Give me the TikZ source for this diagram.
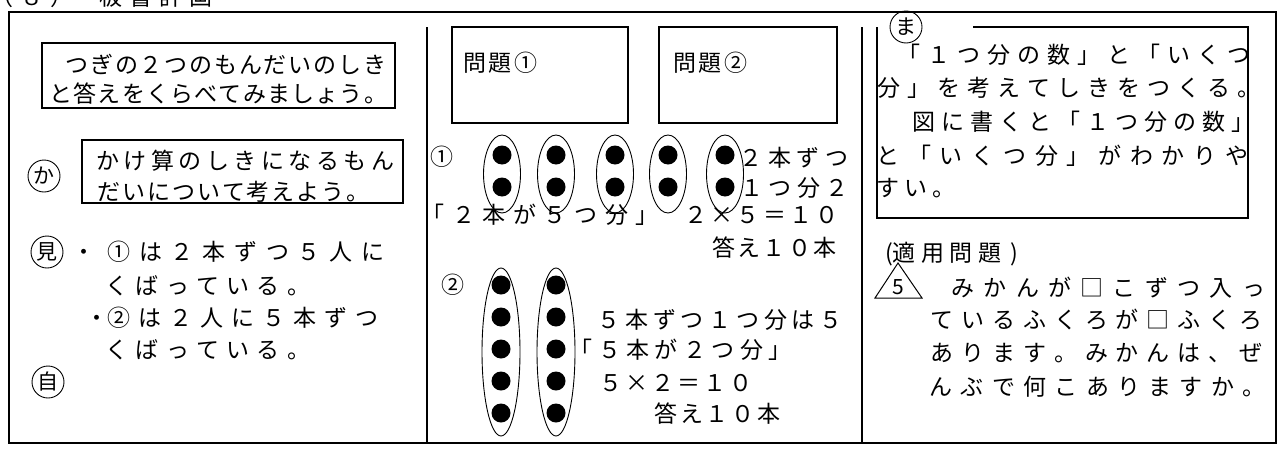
\documentclass[tikz,border=0pt]{standalone}
\usepackage{fontspec}
\setmainfont{Noto Sans CJK JP}
\newdimen\jpitch
\def\pl#1#2{\jpitch=#1pt\relax\plloop#2\relax}
\def\plloop#1{\ifx#1\relax\else\hbox to\jpitch{\hss#1\hss}\expandafter\plloop\fi}
\tikzset{
  jt/.style={inner sep=0pt, outer sep=0pt, text height=20.2pt, text depth=2.8pt, anchor=west, font=\fontsize{23}{23}\selectfont},
  frame/.style={draw, line width=2pt},
  cmark/.style={circle, draw, line width=0.9pt, inner sep=0pt, minimum width=32pt, minimum height=32pt, font=\fontsize{21}{21}\selectfont},
  oval/.style={line width=0.9pt},
}
\newcommand\jl[5]{\node[jt] (#1) at ({#2-#3/2},#4) {\pl{#3}{#5}};}
\begin{document}
\begin{tikzpicture}[x=1pt,y=-1pt]
\useasboundingbox (0,0) rectangle (1279,450);
% title (cut off at top, as in the reference)
\jl{t1}{2}{30}{-3}{（８）}
\jl{t2}{111}{30}{-3}{板書計画}
% frame and dividers
\draw[line width=2.4pt] (9,12) rectangle (1276,443);
\draw[line width=2pt] (427,27) -- (427,443);
\draw[line width=2pt] (862,27) -- (862,443);
% ---------- left column
\draw[frame] (42,43) rectangle (395,108);
\jl{a1}{77}{24.8}{65}{つぎの２つのもんだいのしき}
\jl{a2}{61}{24.2}{94}{と答えをくらべてみましょう。}
\node[cmark] (ka) at (44,176) {か};
\draw[frame] (82,140) rectangle (403,203);
\jl{b1}{108}{27.5}{161}{かけ算のしきになるもん}
\jl{b2}{109}{24.9}{192}{だいについて考えよう。}
\node[cmark] (mi) at (47,252) {見};
\node[jt,anchor=center] (m0) at (84,252) {・};
\jl{m1}{119}{31.75}{252}{①は２本ずつ５人に}
\jl{m2}{117}{30.3}{286}{くばっている。}
\node[jt,anchor=center] (m3) at (97,318) {・};
\jl{m4}{119}{31}{318}{②は２人に５本ずつ}
\jl{m5}{117}{30.3}{350}{くばっている。}
\node[cmark] (ji) at (48,382) {自};
% ---------- middle column
\draw[frame] (452,27) rectangle (628,123);
\draw[frame] (659,27) rectangle (837,123);
\jl{p1}{475}{25.5}{63}{問題①}
\jl{p2}{685}{25.5}{63}{問題②}
\node[jt,anchor=center] (c1) at (442,157) {①};
\foreach \x in {502,556,615,668,725}{
  \draw[oval] (\x,174) ellipse[x radius=18.5pt, y radius=39pt];
  \fill (\x,155) circle[radius=9.5pt];
  \fill (\x,187) circle[radius=9.5pt];
}
\jl{r1}{751}{28.7}{158}{２本ずつ}
\jl{r2}{752}{28.3}{188}{１つ分２}
\jl{r3}{433}{30.6}{215}{「２本が５つ分」}
\jl{r4}{696}{26.2}{215}{２×５＝１０}
\jl{r5}{724}{25.2}{248}{答え１０本}
\node[jt,anchor=center] (c2) at (453,285) {②};
\foreach \x in {501,556}{
  \draw[oval] (\x,352) ellipse[x radius=19pt, y radius=84pt];
  \foreach \y in {285,317,349,381,413}{
    \fill (\x,\y) circle[radius=9.5pt];
  }
}
\jl{s1}{609}{27.75}{320}{５本ずつ１つ分は５}
\jl{s2}{581}{28.5}{350}{「５本が２つ分」}
\jl{s3}{611}{26}{383}{５×２＝１０}
\jl{s4}{666}{25.7}{414}{答え１０本}
% ---------- right column
\draw[frame] (973,27) -- (1248,27) -- (1248,218) -- (877,218) -- (877,27);
\node[cmark] (ma) at (906,27) {ま};
\jl{u1}{909}{30}{55}{「１つ分の数」と「いくつ}
\jl{u2}{889}{30}{88}{分」を考えてしきをつくる。}
\jl{u3}{924}{29}{122}{図に書くと「１つ分の数」}
\jl{u4}{888}{31.7}{156}{と「いくつ分」がわかりや}
\jl{u5}{888}{28}{188}{すい。}
\node[jt,anchor=center] (v0) at (889,253) {(};
\jl{v1}{904}{28.5}{253}{適用問題}
\node[jt,anchor=center] (v2) at (1014,253) {)};
\draw[line width=1pt] (875,298) -- (898,263) -- (922,298) -- cycle;
\node[inner sep=0pt, font=\fontsize{21}{21}\selectfont] (five) at (898,287) {5};
\jl{w1}{963}{32.3}{288}{みかんが□こずつ入っ}
\jl{w2}{942}{30.9}{320}{ているふくろが□ふくろ}
\jl{w3}{942}{30.9}{353}{あります。みかんは、ぜ}
\jl{w4}{941}{31.3}{387}{んぶで何こありますか。}
\end{tikzpicture}
\end{document}
